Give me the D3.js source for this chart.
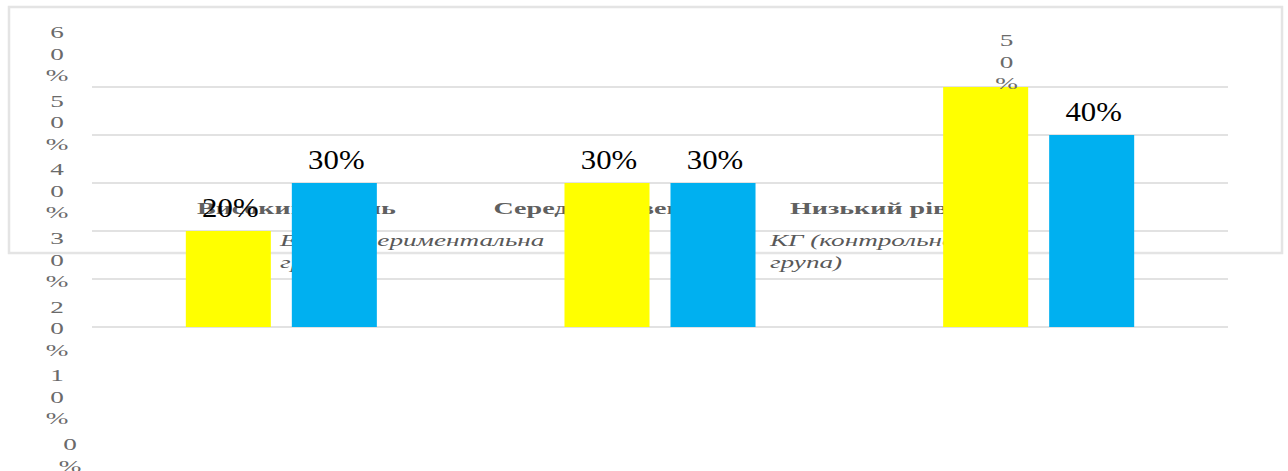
<!DOCTYPE html>
<html>
<head>
<meta charset="utf-8">
<script src="https://cdn.jsdelivr.net/npm/d3@7"></script>
<style>
  html, body { margin: 0; padding: 0; background: #fff; }
  svg { display: block; }
  text { font-family: 'Liberation Serif', 'Times New Roman', serif; }
</style>
</head>
<body>
<svg id="chart" width="1288" height="471"></svg>
<script>
// ---- data ----
const categories = ["Високий рівень", "Середній рівень", "Низький рівень"];
const seriesNames = ["ЕГ (експериментальна група)", "КГ (контрольна група)"];
const egValues = [20, 30, 50];
const kgValues = [30, 30, 40];
const yTickValues = [0, 10, 20, 30, 40, 50, 60];
const gridValues = [0, 10, 20, 30, 40, 50];
const legendLines = [["ЕГ (експериментальна", "група)"], ["КГ (контрольна", "група)"]];
const seriesColors = ["#FFFF00", "#00B0F0"];

const FONT = "'Liberation Serif', 'Times New Roman', serif";
const svg = d3.select("#chart");

// outer frame
svg.append("rect")
  .attr("x", 9).attr("y", 7).attr("width", 1273).attr("height", 246)
  .attr("fill", "none").attr("stroke", "#e4e4e4").attr("stroke-width", 2.5);

// scales
const x0 = d3.scaleBand().domain(categories).range([92, 1228]).padding(0);
const x1 = d3.scaleBand().domain(seriesNames).range([0, x0.bandwidth()])
  .paddingInner(0.198).paddingOuter(0.885);
const y = d3.scaleLinear().domain([0, 60]).range([327, 39]);
// stacked axis label positions (first char reference)
const yLab = d3.scaleLinear().domain([0, 60]).range([444, 32]);

// gridlines
svg.append("g").selectAll("line").data(gridValues).join("line")
  .attr("x1", 92).attr("x2", 1228)
  .attr("y1", d => y(d)).attr("y2", d => y(d))
  .attr("stroke", "#d9d9d9").attr("stroke-width", 1.5);

// y-axis tick labels, one character per line
const yAxisG = svg.append("g");
yTickValues.forEach(v => {
  const chars = (v + "%").split("");
  const cx = v === 0 ? 70 : 57;
  chars.forEach((c, i) => {
    yAxisG.append("text")
      .attr("transform", `translate(${cx},${yLab(v) + i * 21.5 + 6}) scale(1.6,1)`)
      .attr("text-anchor", "middle")
      .style("font-family", FONT)
      .attr("font-size", 17)
      .attr("fill", "#6a6a6a")
      .text(c);
  });
});

// category labels (behind bars)
const catPos = d3.scalePoint().domain(categories).range([197, 790]);
svg.append("g").selectAll("text").data(categories).join("text")
  .attr("transform", d => `translate(${catPos(d)},214) scale(1.65,1)`)
  .style("font-family", FONT)
  .attr("font-size", 17)
  .attr("font-weight", "bold")
  .attr("fill", "#606060")
  .text(d => d);

// legend texts (behind bars)
const legPos = d3.scalePoint().domain(seriesNames).range([280, 770]);
seriesNames.forEach((s, si) => {
  legendLines[si].forEach((ln, li) => {
    svg.append("text")
      .attr("transform", `translate(${legPos(s)},${246 + li * 22}) scale(1.6,1)`)
      .style("font-family", FONT)
      .attr("font-size", 17)
      .attr("font-style", "italic")
      .attr("fill", "#595959")
      .text(ln);
  });
});

// bars
const rows = categories.map((c, i) => ({ cat: c, vals: [egValues[i], kgValues[i]] }));
const groups = svg.append("g").selectAll("g").data(rows).join("g")
  .attr("transform", d => `translate(${x0(d.cat)},0)`);
groups.selectAll("rect").data(d => d.vals.map((v, i) => ({ s: seriesNames[i], v, i })))
  .join("rect")
  .attr("x", d => x1(d.s))
  .attr("y", d => y(d.v))
  .attr("width", x1.bandwidth())
  .attr("height", d => y(0) - y(d.v))
  .attr("fill", d => seriesColors[d.i]);

// data labels
const maxVal = d3.max(egValues.concat(kgValues));
groups.each(function(row) {
  const g = d3.select(this);
  row.vals.forEach((v, i) => {
    const cx = x1(seriesNames[i]) + x1.bandwidth() / 2;
    if (v === maxVal) {
      // label rendered as stacked small characters
      (v + "%").split("").forEach((c, k) => {
        g.append("text")
          .attr("transform", `translate(${cx + 21},${y(v) - 41 + k * 21.5}) scale(1.6,1)`)
          .attr("text-anchor", "middle")
          .style("font-family", FONT)
          .attr("font-size", 17)
          .attr("fill", "#6a6a6a")
          .text(c);
      });
    } else {
      g.append("text")
        .attr("transform", `translate(${cx + 2},${y(v) - 14}) scale(1.1,1)`)
        .attr("text-anchor", "middle")
        .style("font-family", FONT)
        .attr("font-size", 28)
        .attr("fill", "#000")
        .text(v + "%");
    }
  });
});
</script>
</body>
</html>
